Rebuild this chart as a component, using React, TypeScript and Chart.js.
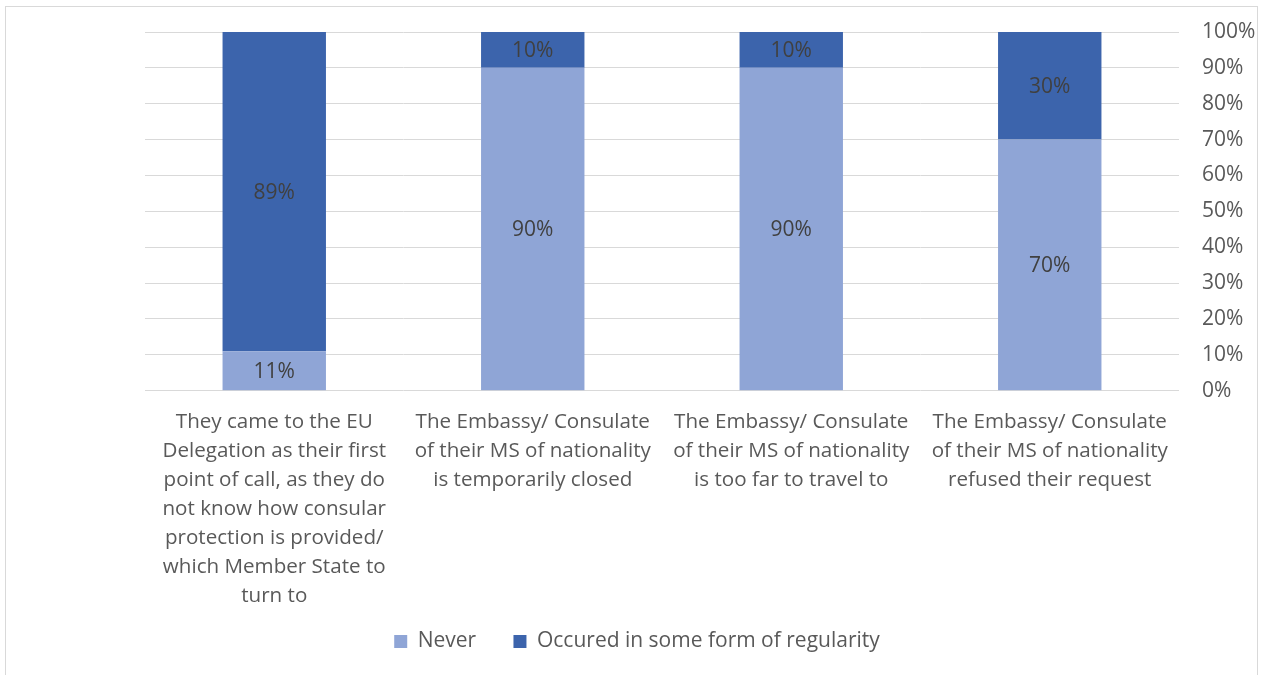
import React, { useEffect, useRef } from "react";
import { Chart, registerables } from "chart.js";

Chart.register(...registerables);

const categories: string[][] = [
  ["They came to the EU", "Delegation as their first", "point of call, as they do", "not know how consular", "protection is provided/", "which Member State to", "turn to"],
  ["The Embassy/ Consulate", "of their MS of nationality", "is temporarily closed"],
  ["The Embassy/ Consulate", "of their MS of nationality", "is too far to travel to"],
  ["The Embassy/ Consulate", "of their MS of nationality", "refused their request"],
];
const neverValues = [11, 90, 90, 70];
const occurredValues = [89, 10, 10, 30];
const seriesNames = ["Never", "Occured in some form of regularity"];
const yTicks = [0, 10, 20, 30, 40, 50, 60, 70, 80, 90, 100];

const FONT = "'Open Sans', 'Liberation Sans', sans-serif";

const labelPlugin = {
  id: "segLabels",
  afterDatasetsDraw(chart: any) {
    const ctx = chart.ctx;
    ctx.save();
    ctx.font = `21px ${FONT}`;
    ctx.fillStyle = "#404040";
    ctx.textAlign = "center";
    ctx.textBaseline = "middle";
    chart.data.datasets.forEach((ds: any, di: number) => {
      const meta = chart.getDatasetMeta(di);
      meta.data.forEach((bar: any, i: number) => {
        const v = ds.data[i];
        const { x, y, base } = bar.getProps(["x", "y", "base"], true);
        ctx.fillText(`${v}%`, x, (y + base) / 2 + 1);
      });
    });
    ctx.restore();
  },
};

export default function App() {
  const ref = useRef<HTMLCanvasElement>(null);
  useEffect(() => {
    if (!ref.current) return;
    const chart = new Chart(ref.current, {
      type: "bar",
      data: {
        labels: categories,
        datasets: [
          { label: seriesNames[0], data: neverValues, backgroundColor: "#8FA5D6", barPercentage: 0.8, categoryPercentage: 0.5, xAxisID: "x", yAxisID: "y" },
          { label: seriesNames[1], data: occurredValues, backgroundColor: "#3C64AC", barPercentage: 0.8, categoryPercentage: 0.5, xAxisID: "x", yAxisID: "y" },
        ],
      },
      options: {
        responsive: false,
        animation: false,
        layout: { padding: { left: 19, top: 32, right: 9, bottom: 13 } },
        plugins: {
          legend: {
            position: "bottom",
            labels: {
              boxWidth: 13,
              boxHeight: 13,
              padding: 10,
              color: "#595959",
              font: { family: FONT, size: 21 },
              generateLabels: (chart: any) => {
                const items = Chart.defaults.plugins.legend.labels.generateLabels(chart);
                items.forEach((it: any, i: number) => {
                  if (i < items.length - 1) it.text = it.text + "     ";
                });
                return items;
              },
            },
          },
          tooltip: { enabled: false },
        },
        scales: {
          x: {
            stacked: true,
            grid: { display: false, drawTicks: false },
            border: { display: false },
            ticks: {
              autoSkip: false,
              maxRotation: 0,
              minRotation: 0,
              padding: 17,
              color: "#595959",
              font: { family: FONT, size: 20.6, lineHeight: 1.41 },
            },
            afterFit: (axis: any) => {
              axis.height -= 7;
            },
          },
          spacer: {
            type: "linear",
            axis: "y",
            position: "left",
            grid: { display: false, drawTicks: false },
            border: { display: false },
            ticks: { display: false },
            afterFit: (axis: any) => {
              axis.width = 126;
            },
          },
          y: {
            stacked: true,
            position: "right",
            min: 0,
            max: 100,
            afterBuildTicks: (axis: any) => {
              axis.ticks = yTicks.map((v) => ({ value: v }));
            },
            grid: { color: "#d9d9d9", lineWidth: 1, drawTicks: true, tickLength: 23, tickColor: "rgba(0,0,0,0)" },
            border: { display: false },
            ticks: {
              padding: 0,
              color: "#595959",
              font: { family: FONT, size: 21 },
              callback: (v: any) => `${v}%`,
            },
            afterFit: (axis: any) => {
              axis.width = 76;
            },
          },
        },
      },
      plugins: [labelPlugin],
    });
    return () => chart.destroy();
  }, []);

  return (
    <div style={{ position: "absolute", left: 0, top: 0, width: 1264, height: 675, overflow: "hidden", background: "#fff" }}>
      <div style={{ position: "absolute", left: 5, top: 6, width: 1251, height: 700, border: "1px solid #d9d9d9" }} />
      <canvas ref={ref} width={1264} height={675} style={{ position: "absolute", left: 0, top: 0 }} />
    </div>
  );
}
